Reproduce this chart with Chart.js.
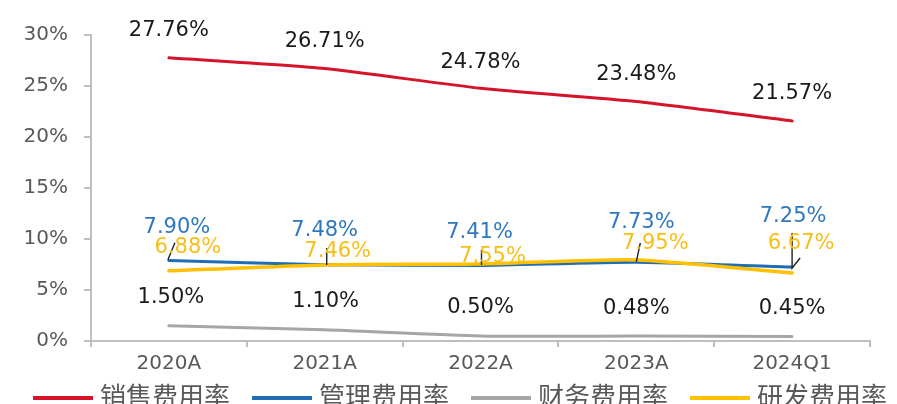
<!DOCTYPE html>
<html>
<head>
<meta charset="utf-8">
<script src="https://cdn.jsdelivr.net/npm/chart.js@4.4.1/dist/chart.umd.min.js"></script>
<style>
  html, body { margin: 0; padding: 0; background: #fff; overflow: hidden; }
  #wrap { width: 897px; height: 404px; }
</style>
</head>
<body>
<div id="wrap"><canvas id="rateChart"></canvas></div>
<script>
// data (%)
const categories = ['2020A', '2021A', '2022A', '2023A', '2024Q1'];
const sellingRate = [27.76, 26.71, 24.78, 23.48, 21.57];
const adminRate = [7.90, 7.48, 7.41, 7.73, 7.25];
const financeRate = [1.50, 1.10, 0.50, 0.48, 0.45];
const rdRate = [6.88, 7.46, 7.55, 7.95, 6.67];
const seriesNames = ['销售费用率', '管理费用率', '财务费用率', '研发费用率'];
const yTickMax = 30;
const yTickStep = 5;

// label placement relative to each point (px), same order as datasets
const labelOffsets = [
  [[0, -27], [0, -27], [0, -26], [0, -27], [0, -27]],
  [[8, -33], [0, -34], [-1, -33], [5, -40], [1, -51]],
  [[2, -28], [1, -28], [0, -28], [0, -28], [0, -28]],
  [[19, -23], [13, -13], [12, -7], [19, -16], [9, -29]]
];
const labelColors = ['#1a1a1a', '#2E78BE', '#1a1a1a', '#F7BE16'];
// little leader strokes that Excel left next to the yellow labels
const leaders = [
  [[-1, -11], [6, -28]],
  [[2, 0], [2, -17]],
  [[1, 1], [1, -14]],
  [[0, 2], [4, -17]],
  [[0, -40], [0, -5], [8, -15]]
];

const pointLabels = {
  id: 'pointLabels',
  afterDatasetsDraw(chart) {
    const ctx = chart.ctx;
    ctx.save();
    // leaders on the yellow series
    const rdMeta = chart.getDatasetMeta(3);
    ctx.strokeStyle = '#222';
    ctx.lineWidth = 1.4;
    rdMeta.data.forEach((pt, j) => {
      ctx.beginPath();
      leaders[j].forEach(([dx, dy], k) => {
        if (k === 0) ctx.moveTo(pt.x + dx, pt.y + dy);
        else ctx.lineTo(pt.x + dx, pt.y + dy);
      });
      ctx.stroke();
    });

    ctx.font = '21px "DejaVu Sans"';
    ctx.textAlign = 'center';
    ctx.textBaseline = 'middle';
    chart.data.datasets.forEach((ds, i) => {
      const meta = chart.getDatasetMeta(i);
      ctx.fillStyle = labelColors[i];
      meta.data.forEach((pt, j) => {
        const [dx, dy] = labelOffsets[i][j];
        ctx.fillText(ds.data[j].toFixed(2) + '%', pt.x + dx, pt.y + dy);
      });
    });
    ctx.restore();
  },
  afterDraw(chart) {
    // legend along the bottom edge, partly cut off like the original
    const ctx = chart.ctx;
    ctx.save();
    ctx.font = '26px "Noto Sans CJK SC"';
    ctx.textBaseline = 'middle';
    ctx.textAlign = 'left';
    let x = 33;
    const y = 398;
    chart.data.datasets.forEach(ds => {
      ctx.strokeStyle = ds.borderColor;
      ctx.lineWidth = 4;
      ctx.beginPath();
      ctx.moveTo(x, y);
      ctx.lineTo(x + 60, y);
      ctx.stroke();
      ctx.fillStyle = '#595959';
      ctx.fillText(ds.label, x + 67, y - 2);
      x += 67 + ctx.measureText(ds.label).width + 22;
    });
    ctx.restore();
  }
};

const ctx = document.getElementById('rateChart').getContext('2d');

new Chart(ctx, {
  type: 'line',
  data: {
    labels: categories,
    datasets: [
      { label: seriesNames[0], data: sellingRate, borderColor: '#D5142B', borderWidth: 3, order: 1 },
      { label: seriesNames[1], data: adminRate, borderColor: '#1F6DB4', borderWidth: 3, order: 1 },
      { label: seriesNames[2], data: financeRate, borderColor: '#A6A6A6', borderWidth: 3, order: 1 },
      { label: seriesNames[3], data: rdRate, borderColor: '#FFC000', borderWidth: 3.5, order: 0 }
    ]
  },
  options: {
    responsive: true,
    maintainAspectRatio: false,
    animation: false,
    layout: { padding: { top: 35, right: 27, bottom: 0, left: 0 } },
    elements: {
      point: { radius: 0, hoverRadius: 0 },
      line: { tension: 0.2, borderCapStyle: 'round', fill: false }
    },
    plugins: {
      legend: { display: false },
      tooltip: { enabled: false }
    },
    scales: {
      x: {
        offset: true,
        grid: { offset: true, drawOnChartArea: false, tickLength: 6, color: '#BFBFBF', lineWidth: 2 },
        border: { color: '#BFBFBF', width: 2 },
        ticks: { color: '#595959', font: { family: 'DejaVu Sans', size: 20 }, padding: 5, maxRotation: 0 },
        afterFit(scale) { scale.height = 63; }
      },
      y: {
        min: 0,
        max: yTickMax,
        grid: { drawOnChartArea: false, tickLength: 7, color: '#BFBFBF', lineWidth: 2 },
        border: { color: '#BFBFBF', width: 2 },
        ticks: {
          stepSize: yTickStep,
          color: '#595959',
          font: { family: 'DejaVu Sans', size: 20 },
          padding: 16,
          callback: v => v + '%'
        },
        afterFit(scale) { scale.width = 91; }
      }
    }
  },
  plugins: [pointLabels]
});
</script>
</body>
</html>
